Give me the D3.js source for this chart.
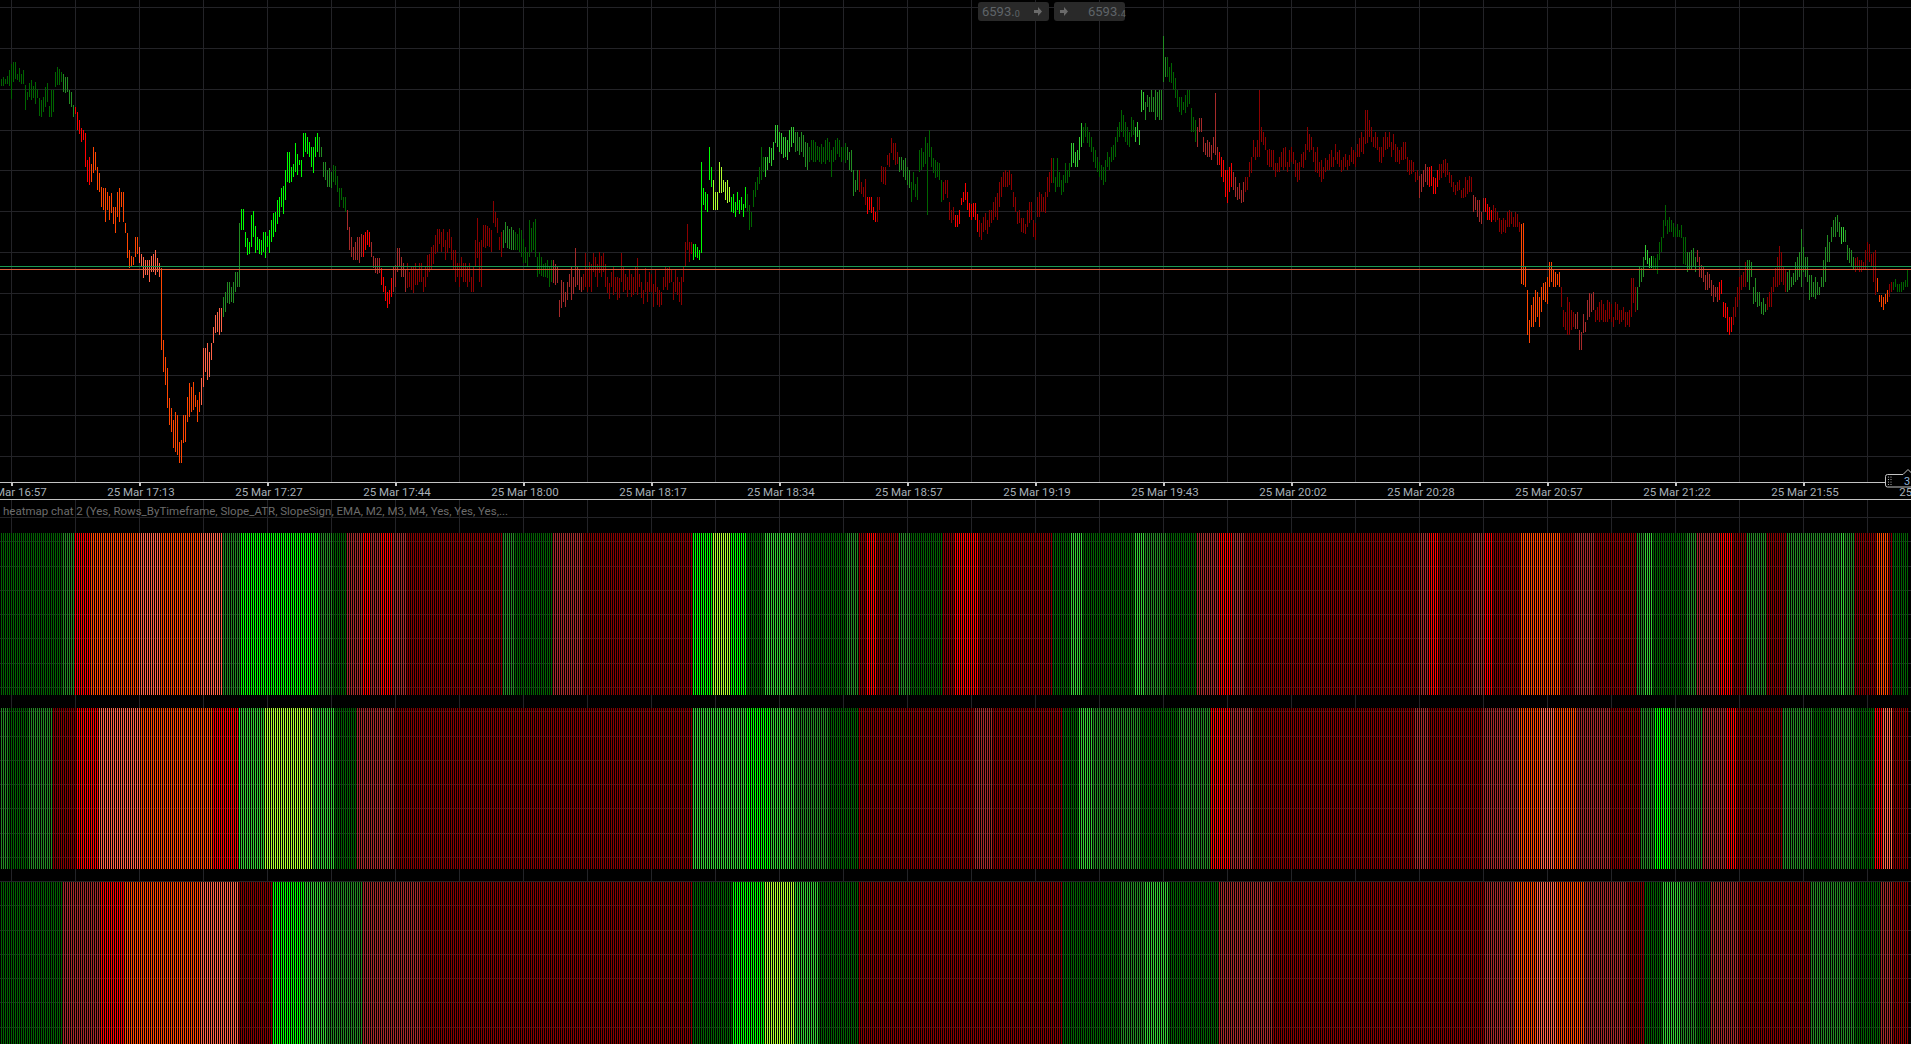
<!DOCTYPE html>
<html>
<head>
<meta charset="utf-8">
<title>heatmap chat 2</title>
<script src="https://cdn.jsdelivr.net/npm/d3@7"></script>
<style>
html, body { margin: 0; padding: 0; background: #000; overflow: hidden; }
svg { display: block; }
text { font-family: Roboto, "Liberation Sans", sans-serif; }
</style>
</head>
<body>
<div id="chart"></div>
<script>
// price is kept in ticks of 0.15 above priceBase
var priceBase = 6561.1;
var tickSize = 0.15;
var bid = 6593.0;
var ask = 6593.4;

// high, low, high, low ... one line per grid cell (32 bars)
var priceCells = [
[403,396,405,396,403,398,406,398,412,396,418,383,420,400,420,403,408,402,414,400,408,398,412,398,397,372,390,382,399,385,402,382,396,384,400,378,393,384,384,366,382,365,385,370,395,375,399,380,376,365,392,365,392,370,410,395,415,397,413,397,410,400,408,390],
[405,389,405,390,392,378,390,375,377,365,375,368,370,352,362,348,354,340,352,342,349,315,322,300,325,297,318,300,335,309,330,312,315,292,309,290,295,275,294,272,294,260,290,272,286,262,289,269,275,258,275,249,290,265,294,260,290,275,290,260,259,249,249,224],
[232,214,226,215,225,217,245,225,245,228,235,219,228,215,225,204,222,207,222,207,222,200,226,210,228,210,232,207,224,210,219,205,214,132,142,110,125,97,114,74,84,57,74,50,62,34,70,30,67,27,40,19,42,19,67,39,67,40,85,60,99,65,95,70],
[100,72,87,75,82,60,90,70,104,77,134,95,134,110,139,102,130,105,139,122,155,139,167,149,170,150,174,147,174,150,185,165,190,170,200,179,200,178,195,180,200,179,210,190,210,195,259,195,273,252,273,252,250,235,244,227,240,228,267,235,271,245,256,229],
[245,232,243,228,242,227,250,230,250,224,246,235,252,229,262,240,269,245,270,250,282,258,285,265,294,275,296,268,312,282,330,300,330,299,315,300,318,305,339,310,328,307,322,317,322,305,349,325,349,330,345,328,340,325,335,315,335,309,345,325,349,330,345,325],
[335,325,320,305,320,302,312,295,314,295,310,294,317,300,316,297,306,290,294,275,294,282,285,274,285,270,272,252,255,232,245,225,235,222,240,222,245,222,245,219,248,225,247,225,250,232,252,237,250,235,240,225,226,214,224,209,224,208,224,209,214,197,205,190],
[196,181,190,174,192,178,204,185,215,190,217,195,234,210,234,215,225,205,219,205,212,190,219,194,210,195,215,192,215,189,219,197,212,197,219,200,219,200,205,190,215,195,227,205,228,210,235,213,237,218,247,228,253,230,253,238,250,230,253,235,242,222,250,229],
[253,234,245,222,232,212,232,200,219,205,219,195,225,205,219,200,219,200,215,195,219,200,205,190,215,190,242,215,264,224,240,200,242,195,257,235,257,234,256,236,254,235,252,230,281,259,270,255,264,249,245,232,250,225,252,234,260,239,256,234,253,233,255,232],
[252,232,250,232,248,232,254,230,252,225,243,219,235,219,230,215,262,225,254,230,260,232,263,225,225,205,230,208,225,206,218,205,219,205,222,204,215,195,222,200,222,199,218,197,215,199,182,165,202,174,200,180,190,175,200,182,208,195,215,182,205,188,234,195],
[216,197,212,192,205,190,208,192,229,195,212,190,220,195,218,190,229,210,225,205,218,195,230,209,226,205,229,210,218,195,205,189,199,183,210,195,215,187,205,190,205,182,204,184,229,200,215,190,208,192,205,185,212,192,208,185,205,187,215,190,224,187,208,195],
[200,184,192,178,214,190,200,180,210,190,208,190,198,175,212,190,195,177,192,175,190,177,205,192,215,195,214,192,215,199,213,200,200,182,212,190,205,187,200,180,205,177,215,200,240,215,258,232,240,220,240,228,238,222,238,225,235,224,232,222,320,229,294,277],
[290,272,288,270,335,302,315,295,302,272,290,272,290,272,320,289,315,289,302,290,300,282,302,279,295,280,285,270,288,269,280,265,290,272,282,268,285,272,278,265,295,274,288,270,277,252,270,255,292,275,300,285,305,292,315,298,335,302,325,310,325,305,325,312],
[335,319,334,316,340,322,357,339,357,335,350,330,349,328,345,324,345,325,342,322,352,330,355,335,355,339,350,330,350,331,345,327,350,330,347,325,340,315,339,312,335,320,342,322,342,320,340,320,336,322,335,320,338,318,335,320,342,318,344,322,340,320,332,305],
[335,320,342,322,344,328,342,325,335,320,335,322,339,319,335,322,330,312,332,310,312,286,302,290,312,292,312,290,300,288,295,285,303,277,285,268,285,272,285,269,275,262,270,260,285,260,285,272,316,300,315,298,315,297,327,317,329,315,344,329,339,322,339,317],
[330,318,325,310,325,312,322,305,324,302,315,297,312,294,300,280,310,292,298,285,305,282,332,310,334,312,330,315,345,318,339,267,352,325,335,315,324,309,322,304,320,305,319,302,302,280,300,282,302,288,302,284,280,262,272,259,275,262,267,255,267,255,272,258],
[284,277,290,280,299,282,290,272,279,265,278,262,279,265,279,262,268,250,262,245,259,242,265,250,269,252,262,248,272,255,272,259,280,262,285,265,289,262,300,275,305,285,310,295,312,295,310,295,312,297,308,292,290,275,285,270,270,258,272,259,264,250,264,249],
[258,248,272,255,280,259,280,262,262,245,259,242,285,265,290,265,288,270,285,270,290,269,305,285,310,290,324,299,324,299,305,290,324,295,310,295,302,287,307,290,319,299,312,299,319,305,339,315,339,319,330,315,332,315,345,322,359,335,355,339,359,345,355,339],
[350,335,345,330,335,320,332,314,325,310,320,305,317,302,315,297,322,300,330,315,325,312,335,320,337,322,345,325,355,340,360,345,372,350,367,345,360,340,355,337,350,335,365,345,362,347,355,340,360,345,352,337,392,370,390,372,380,362,387,375,385,370,392,370],
[385,370,392,362,390,365,392,362,392,362,446,400,425,405,425,405,415,400,419,399,410,392,404,384,392,375,385,370,385,367,380,372,387,369,392,375,392,378,374,350,365,350,362,340,355,335,364,350,364,350,345,330,339,327,342,325,340,325,337,322,345,329,389,327],
[335,317,330,317,325,305,322,300,312,285,312,279,315,290,319,295,310,292,305,285,295,282,299,283,292,279,300,280,305,290,305,292,320,305,325,309,342,325,335,322,342,325,392,325,355,340,350,337,345,332,332,317,333,315,332,315,332,312,319,305,319,310,325,310],
[330,315,334,312,335,315,320,310,332,315,335,320,330,318,322,305,319,300,320,302,328,315,330,314,338,322,355,332,348,330,345,332,335,320,330,310,335,309,320,305,322,300,315,303,324,310,322,312,328,312,332,315,325,315,338,322,330,318,332,315,322,310,325,312],
[328,315,322,312,327,316,335,320,332,318,330,315,338,325,344,325,350,330,345,328,372,338,372,339,362,345,355,340,345,335,350,334,345,332,335,320,335,319,345,325,350,332,345,333,350,335,340,325,348,332,338,320,335,320,332,318,335,322,340,322,340,323,325,310],
[322,307,322,308,320,310,310,300,312,302,306,284,308,290,312,295,318,300,315,297,315,295,316,296,305,288,304,288,312,295,318,302,318,304,322,309,323,305,319,307,310,299,307,295,300,290,297,287,300,291,302,292,292,284,294,284,305,285,302,288,306,290,305,290],
[287,270,285,272,282,265,282,260,270,258,284,270,284,270,278,262,275,262,272,260,277,262,274,260,270,262,264,250,262,248,264,250,262,249,270,255,272,255,270,258,265,255,270,255,268,255,260,250,258,198,259,197,215,195,192,147,162,139,177,155,185,155,192,160],
[190,165,185,155,195,170,199,182,200,180,205,178,220,195,220,200,212,195,210,195,208,197,210,195,195,175,172,155,170,152,185,147,180,147,172,152,170,155,168,153,170,153,152,132,150,132,168,149,160,150,182,162,189,165,188,170,190,172,172,160,175,162,180,160],
[182,162,178,160,172,160,182,160,180,163,178,160,165,155,180,162,178,162,172,158,172,160,175,162,170,155,170,157,172,155,204,165,204,179,195,170,195,172,215,195,214,200,225,205,237,222,232,218,224,214,226,214,226,212,224,212,228,208,240,222,245,230,262,244],
[277,256,262,248,265,250,262,250,259,245,255,245,258,245,252,245,257,244,245,218,245,217,230,210,230,212,232,212,234,215,225,210,232,220,225,205,217,204,215,200,207,192,210,192,208,194,202,186,197,180,195,185,195,180,200,182,202,188,180,165,179,164,175,150],
[165,147,165,150,175,157,185,165,195,175,205,182,207,192,210,195,220,195,222,200,222,192,220,205,195,178,204,180,190,175,190,176,180,168,184,167,178,170,185,172,190,175,195,175,205,190,214,195,225,195,236,197,230,200,215,197,212,190,210,190,212,192,205,195],
[209,197,220,200,225,202,230,205,253,195,235,210,225,205,225,200,207,182,207,185,200,185,205,183,200,187,195,187,205,195,222,195,235,200,247,220,240,220,255,240,262,245,265,245,267,250,260,245,255,238,255,240,252,240,237,222,234,219,232,215,225,212,224,210],
[225,212,222,210,222,210,220,212,232,212,240,222,238,220,228,215,230,200,232,187,204,190,187,180,187,175,185,172,188,178,192,180,198,185,200,190,200,192,203,195,198,190,198,190,200,190,200,192,202,195,212,195]
];

// level, last bar (exclusive), level, last bar ...
var row1Runs = ["D",31,"F",37,"E",45,"O",69,"T",80,"O",100,"T",111,"F",120,"G",159,"F",166,"D",173,"B",181,"E",185,"B",190,"E",196,"B",203,"R",251,"F",257,"D",276,"B",291,"R",346,"G",356,"Y",365,"G",373,"D",382,"L",397,"F",404,"D",423,"F",429,"R",433,"E",438,"R",449,"F",455,"D",471,"R",477,"E",489,"R",526,"D",535,"L",541,"D",567,"L",572,"F",583,"D",598,"B",609,"E",616,"B",622,"R",709,"B",714,"E",719,"R",736,"B",742,"E",746,"R",760,"O",780,"R",787,"B",797,"R",818,"F",822,"L",826,"D",843,"F",848,"B",859,"E",866,"R",873,"F",883,"R",893,"F",920,"L",922,"F",927,"R",938,"O",944,"R",946,"D",954];
var row2Runs = ["F",4,"D",14,"F",26,"R",38,"E",49,"T",70,"O",106,"E",119,"L",132,"Y",156,"L",167,"D",178,"B",197,"R",346,"L",373,"G",385,"L",397,"F",414,"D",429,"R",487,"B",496,"R",531,"D",539,"L",546,"F",570,"D",589,"F",605,"E",615,"B",626,"R",707,"B",714,"R",741,"B",759,"O",770,"T",777,"O",788,"B",805,"R",820,"F",827,"G",835,"F",851,"B",863,"E",868,"R",891,"F",906,"D",915,"F",927,"D",937,"E",941,"T",946,"R",954];
var row3Runs = ["D",31,"B",50,"E",62,"O",100,"T",119,"R",136,"G",152,"L",163,"F",181,"B",210,"R",346,"D",366,"G",382,"Y",397,"L",409,"D",429,"R",531,"D",560,"F",572,"L",584,"D",609,"B",636,"R",742,"B",757,"O",768,"T",778,"O",792,"B",813,"R",822,"D",831,"L",840,"F",848,"D",855,"B",869,"R",905,"F",927,"D",940,"B",946,"R",954];

var levelColors = {
	D: "#006400", F: "#228b22", L: "#32cd32", G: "#00ff00", Y: "#adff2f",
	R: "#8b0000", B: "#a52a2a", E: "#ff0000", O: "#ff4500", T: "#ff6347"
};

var timeLabels = ["25 Mar 16:57", "25 Mar 17:13", "25 Mar 17:27", "25 Mar 17:44", "25 Mar 18:00", "25 Mar 18:17", "25 Mar 18:34", "25 Mar 18:57", "25 Mar 19:19", "25 Mar 19:43", "25 Mar 20:02", "25 Mar 20:28", "25 Mar 20:57", "25 Mar 21:22", "25 Mar 21:55", "25 Mar 22:28"];
var priceGridTicks = [475, 434, 393, 352, 312, 271, 230, 189, 148, 107, 67, 26];
var paneGridLevels = [17, 41, 66, 90, 114, 138, 163, 187, 211, 236, 260, 284, 308, 333, 357, 381, 405, 430, 454, 478, 502, 527];
var title = "heatmap chat 2 (Yes, Rows_ByTimeframe, Slope_ATR, SlopeSign, EMA, M2, M3, M4, Yes, Yes, Yes,...";

var width = 1911, height = 1044;
var priceBottom = 482, paneTop = 500;
var barCount = 955;

function expandRuns(runs) {
	var out = [];
	for (var r = 0; r < runs.length; r += 2) {
		while (out.length < runs[r + 1]) out.push(runs[r]);
	}
	return out;
}

var bars = [];
priceCells.forEach(function (cell, c) {
	for (var j = 0; j + 1 < cell.length; j += 2) {
		bars.push({ i: c * 32 + j / 2, high: priceBase + cell[j] * tickSize, low: priceBase + cell[j + 1] * tickSize });
	}
});
var row1Levels = expandRuns(row1Runs);
bars.forEach(function (b) { b.level = row1Levels[b.i] || "D"; });

var rows = [
	{ id: "row1", levels: row1Levels },
	{ id: "row2", levels: expandRuns(row2Runs) },
	{ id: "row3", levels: expandRuns(row3Runs) }
];

var x = d3.scaleLinear().domain([0, barCount]).range([1, 1911]);
var y = d3.scaleLinear().domain([priceBase, priceBase + priceBottom * tickSize]).range([priceBottom, 0]);
var paneY = d3.scaleLinear().domain([0, height - paneTop]).range([paneTop, height]);
var rowY = d3.scaleBand().domain(rows.map(function (r) { return r.id; })).range([533, 1044]).paddingInner(0.0745);

var svg = d3.select("#chart").append("svg")
	.attr("width", width)
	.attr("height", height)
	.style("background", "#000");

var gridColor = "#232327";
var grid = svg.append("g").attr("shape-rendering", "crispEdges");

var gridBars = d3.range(5, barCount, 32);
grid.selectAll(".vgrid-price").data(gridBars).join("rect")
	.attr("x", function (d) { return x(d); })
	.attr("y", 0)
	.attr("width", 1)
	.attr("height", priceBottom)
	.attr("fill", gridColor);
grid.selectAll(".vgrid-pane").data(gridBars).join("rect")
	.attr("x", function (d) { return x(d); })
	.attr("y", paneTop)
	.attr("width", 1)
	.attr("height", height - paneTop)
	.attr("fill", gridColor);
grid.selectAll(".hgrid-price").data(priceGridTicks).join("rect")
	.attr("x", 0)
	.attr("y", function (d) { return Math.round(y(priceBase + d * tickSize)); })
	.attr("width", width)
	.attr("height", 1)
	.attr("fill", gridColor);
grid.selectAll(".hgrid-pane").data(paneGridLevels).join("rect")
	.attr("x", 0)
	.attr("y", function (d) { return Math.round(paneY(d)); })
	.attr("width", width)
	.attr("height", 1)
	.attr("fill", gridColor);

// price bars
svg.append("g").attr("shape-rendering", "crispEdges")
	.selectAll("rect").data(bars).join("rect")
	.attr("x", function (d) { return x(d.i); })
	.attr("y", function (d) { return y(d.high); })
	.attr("width", 1)
	.attr("height", function (d) { return y(d.low) - y(d.high); })
	.attr("fill", function (d) { return levelColors[d.level]; });

// bid and ask lines
svg.append("g").attr("shape-rendering", "crispEdges")
	.selectAll("line").data([{ p: ask, c: "#1a9a50" }, { p: bid, c: "#e0603a" }]).join("line")
	.attr("x1", 0)
	.attr("x2", width)
	.attr("y1", function (d) { return Math.floor(y(d.p)) + 0.5; })
	.attr("y2", function (d) { return Math.floor(y(d.p)) + 0.5; })
	.attr("stroke", function (d) { return d.c; });

// heatmap rows
var rowGroups = svg.append("g").attr("shape-rendering", "crispEdges")
	.selectAll("g").data(rows).join("g");
rowGroups.selectAll("rect")
	.data(function (r) { return r.levels.map(function (l, i) { return { i: i, level: l, row: r.id }; }); })
	.join("rect")
	.attr("x", function (d) { return x(d.i); })
	.attr("y", function (d) { return rowY(d.row); })
	.attr("width", 1)
	.attr("height", rowY.bandwidth())
	.attr("fill", function (d) { return levelColors[d.level]; });

// time axis
var axis = svg.append("g");
axis.selectAll(".axis-line").data([priceBottom, paneTop - 1]).join("rect")
	.attr("x", 0)
	.attr("y", function (d) { return d; })
	.attr("width", width)
	.attr("height", 1)
	.attr("fill", "#c4c4c4")
	.attr("shape-rendering", "crispEdges");
axis.selectAll(".tick").data(timeLabels).join("rect")
	.attr("x", function (d, k) { return x(5 + k * 64); })
	.attr("y", priceBottom)
	.attr("width", 2)
	.attr("height", 4)
	.attr("fill", "#c4c4c4")
	.attr("shape-rendering", "crispEdges");
axis.selectAll("text").data(timeLabels).join("text")
	.attr("x", function (d, k) { return x(5 + k * 64) + 2; })
	.attr("y", 496)
	.attr("text-anchor", "middle")
	.attr("font-size", "11.5px")
	.attr("fill", "#a8b0b8")
	.text(function (d) { return d; });

svg.append("text")
	.attr("x", 3)
	.attr("y", 515)
	.attr("font-size", "11.5px")
	.attr("fill", "#6c6c6c")
	.text(title);

// buy / sell boxes
var quotes = svg.append("g");
var boxes = [
	{ left: 978, w: 71, big: "6593.", small: "0", textX: 982, arrowX: 1034 },
	{ left: 1054, w: 71, big: "6593.", small: "4", textX: 1088, arrowX: 1060 }
];
boxes.forEach(function (b) {
	quotes.append("rect")
		.attr("x", b.left).attr("y", 2)
		.attr("width", b.w).attr("height", 19)
		.attr("rx", 3)
		.attr("fill", "#292929");
	var t = quotes.append("text")
		.attr("x", b.textX).attr("y", 16)
		.attr("font-size", "13px")
		.attr("fill", "#5f6468");
	t.append("tspan").text(b.big);
	t.append("tspan").attr("font-size", "9px").attr("dy", 1).text(b.small);
	quotes.append("path")
		.attr("transform", "translate(" + b.arrowX + ",8)")
		.attr("d", "M0 2 H4 V-1 L8 3.5 L4 8 V5 H0 Z")
		.attr("fill", "#6a6a6a");
});

// fixed scale handle on the right
var handle = svg.append("g");
handle.append("path")
	.attr("d", "M1885.5 476.5 Q1885.5 474.5 1887.5 474.5 H1903 L1908 469.5 L1913 474.5 V487 H1887.5 Q1885.5 487 1885.5 485 Z")
	.attr("fill", "#000")
	.attr("stroke", "#c4c4c4");
handle.selectAll("circle").data(d3.range(8)).join("circle")
	.attr("cx", function (d) { return 1888.5 + (d % 2) * 2.5; })
	.attr("cy", function (d) { return 477 + Math.floor(d / 2) * 2.5; })
	.attr("r", 0.6)
	.attr("fill", "#c4c4c4");
handle.append("text")
	.attr("x", 1904).attr("y", 485)
	.attr("font-size", "11px")
	.attr("fill", "#8fb4dc")
	.text("3");
</script>
</body>
</html>
